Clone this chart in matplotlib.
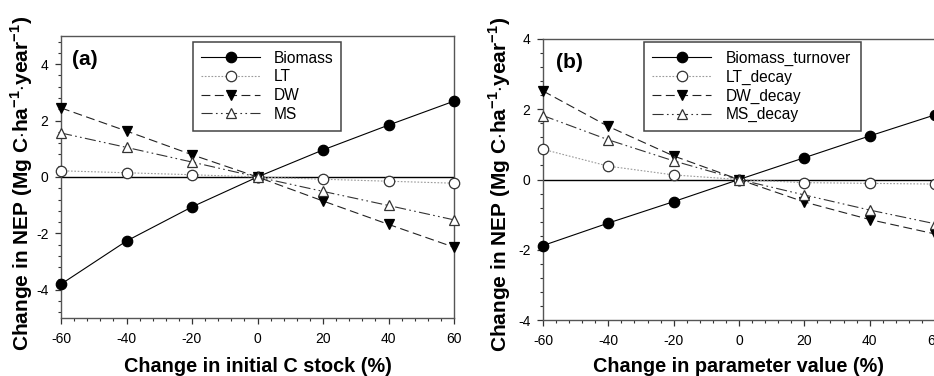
import matplotlib
matplotlib.use("Agg")
import matplotlib.pyplot as plt
from matplotlib.ticker import MultipleLocator
from matplotlib.patches import Rectangle

plt.rcParams['font.family'] = ['Liberation Sans', 'DejaVu Sans']
plt.rcParams['mathtext.fontset'] = 'custom'
plt.rcParams['mathtext.rm'] = 'Liberation Sans'
plt.rcParams['mathtext.bf'] = 'Liberation Sans:bold'
plt.rcParams['axes.unicode_minus'] = False

# ---------------- data ----------------
x_change = [-60, -40, -20, 0, 20, 40, 60]

a_labels = ["Biomass", "LT", "DW", "MS"]
a_biomass = [-3.80, -2.27, -1.06, 0.0, 0.96, 1.84, 2.69]
a_lt = [0.22, 0.15, 0.08, 0.0, -0.08, -0.15, -0.22]
a_dw = [2.45, 1.63, 0.79, 0.0, -0.85, -1.68, -2.49]
a_ms = [1.56, 1.05, 0.53, 0.0, -0.51, -1.01, -1.52]

b_labels = ["Biomass_turnover", "LT_decay", "DW_decay", "MS_decay"]
b_biomass = [-1.88, -1.24, -0.63, 0.0, 0.62, 1.24, 1.84]
b_lt = [0.86, 0.38, 0.13, 0.0, -0.09, -0.11, -0.13]
b_dw = [2.52, 1.51, 0.67, 0.0, -0.64, -1.14, -1.55]
b_ms = [1.82, 1.13, 0.53, 0.0, -0.44, -0.87, -1.26]

xticks = [-60, -40, -20, 0, 20, 40, 60]
a_yticks = [-4, -2, 0, 2, 4]
b_yticks = [-4, -2, 0, 2, 4]

W, H = 934, 376
fig = plt.figure(figsize=(W / 100, H / 100), dpi=100)

def fx(px):
    return px / W

def fy(py):
    return 1 - py / H

def make_axes(l, r, t, b):
    return fig.add_axes([fx(l), fy(b), fx(r) - fx(l), fy(t) - fy(b)])

ax_a = make_axes(61, 454, 36, 318)
ax_b = make_axes(543, 935, 39, 320)

lw = 0.8
styles = [
    dict(color='black', linestyle='-', marker='o', markerfacecolor='black',
         markeredgecolor='black'),
    dict(color='#9a9a9a', linestyle=(0, (1.5, 1.5)), marker='o', markerfacecolor='white',
         markeredgecolor='#333333'),
    dict(color='#222222', linestyle=(0, (8, 4)), marker='v', markerfacecolor='black',
         markeredgecolor='black'),
    dict(color='#333333', linestyle=(0, (10, 3, 1.5, 3, 1.5, 3)), marker='^',
         markerfacecolor='white', markeredgecolor='#333333'),
]

def draw(ax, series, labels, ylim, yticks, tag, tag_xy, leg_box):
    ax.axhline(0, color='black', lw=1.0, zorder=1)
    for ser, lab, st in zip(series, labels, styles):
        ax.plot(x_change, ser, label=lab, lw=lw, markersize=7.5, markeredgewidth=0.9,
                clip_on=False, zorder=3, **st)
    ax.set_xlim(-60, 60)
    ax.set_ylim(*ylim)
    ax.set_xticks(xticks)
    ax.set_yticks(yticks)
    ax.xaxis.set_minor_locator(MultipleLocator(4))
    ax.yaxis.set_minor_locator(MultipleLocator(0.4))
    ax.tick_params(which='major', direction='out', length=4, width=0.9, color='#333333',
                   labelsize=10, pad=5)
    ax.tick_params(which='minor', direction='out', length=2.5, width=0.8, color='#333333')
    ax.tick_params(axis='x', which='major', pad=6)
    for s in ax.spines.values():
        s.set_color('#555555')
        s.set_linewidth(1.0)
    ax.text(tag_xy[0], tag_xy[1], tag, transform=ax.transAxes, fontsize=15,
            fontweight='bold', va='center', ha='left')
    l, t, r, b = leg_box
    ax.add_patch(Rectangle((fx(l), fy(b)), fx(r) - fx(l), fy(t) - fy(b),
                           transform=fig.transFigure, facecolor='white',
                           edgecolor='#444444', linewidth=1.1, zorder=4, clip_on=False))
    leg = ax.legend(loc='upper left', bbox_to_anchor=(fx(l + 8), fy(t + 9)),
                    bbox_transform=fig.transFigure, fontsize=11.2, frameon=False,
                    borderpad=0, handlelength=3.8, handletextpad=0.9,
                    labelspacing=0.24, borderaxespad=0)
    leg.set_zorder(5)

draw(ax_a, [a_biomass, a_lt, a_dw, a_ms], a_labels, (-5, 5), a_yticks,
     "(a)", (0.028, 0.915), (193, 41.7, 341, 130.7))
draw(ax_b, [b_biomass, b_lt, b_dw, b_ms], b_labels, (-4, 4), b_yticks,
     "(b)", (0.0325, 0.918), (644.3, 41.7, 860.7, 130.7))

ylab = r'Change in NEP (Mg C$\cdot$ha$^{\mathbf{-1}}$$\cdot$year$^{\mathbf{-1}}$)'
fig.text(fx(22), fy(183.5), ylab, rotation=90, ha='center', va='center',
         fontsize=15, fontweight='bold')
fig.text(fx(500), fy(184), ylab, rotation=90, ha='center', va='center',
         fontsize=15, fontweight='bold')
fig.text(fx(258), fy(372), "Change in initial C stock (%)", ha='center', va='baseline',
         fontsize=14.3, fontweight='bold')
fig.text(fx(738.5), fy(372), "Change in parameter value (%)", ha='center', va='baseline',
         fontsize=14.3, fontweight='bold')

fig.savefig("out.png", dpi=100)
